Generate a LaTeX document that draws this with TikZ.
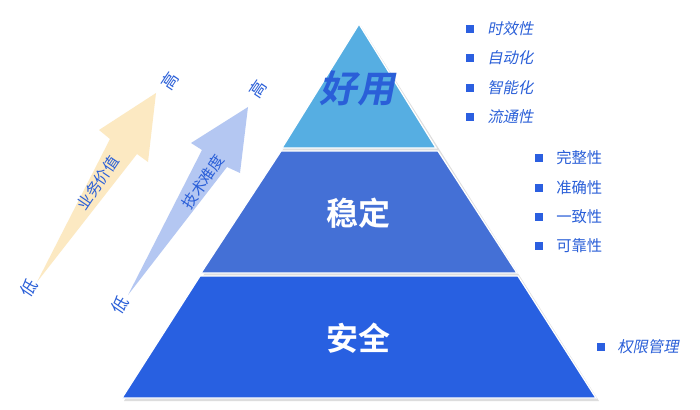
\documentclass[tikz,border=0pt]{standalone}
\usepackage{fontspec}
\newfontfamily\cjk{Noto Sans CJK SC}
\newfontfamily\cjkit[FakeSlant=0.2]{Noto Sans CJK SC}
\newfontfamily\cjkbf{Noto Sans CJK SC Bold}
\newfontfamily\cjkbfit[FakeSlant=0.2]{Noto Sans CJK SC Bold}
\begin{document}
\begin{tikzpicture}[x=0.75pt,y=-0.75pt,
  lbl/.style={text=txtblue,font=\cjk\fontsize{11.5}{13}\selectfont,inner sep=0pt},
  end/.style={text=txtblue,font=\cjk\fontsize{12.5}{14}\selectfont,inner sep=0pt},
  item/.style={text=txtblue,font=\cjk\fontsize{11.5}{13}\selectfont,anchor=west,inner sep=0pt},
  itemit/.style={text=txtblue,font=\cjkit\fontsize{11.5}{13}\selectfont,anchor=west,inner sep=0pt},
  sq/.style={fill=bullet,minimum size=6pt,inner sep=0pt},
  layer/.style={draw=white,line width=1pt},
  big/.style={text=white,font=\cjkbf\fontsize{24}{28}\selectfont}]
\definecolor{txtblue}{HTML}{2A5FD8}
\definecolor{bullet}{HTML}{2B5FE0}
\definecolor{ctop}{HTML}{56AEE2}
\definecolor{cmid}{HTML}{4470D6}
\definecolor{cbot}{HTML}{2860E1}
\definecolor{cyel}{HTML}{FCE9C2}
\definecolor{cblu}{HTML}{B4C7F2}
\useasboundingbox[fill=white] (0,0) rectangle (700,410);
% shadow
\fill[black!22,opacity=0.6] (361,26) -- (599,401) -- (124,401) -- cycle;
% pyramid layers
\path[layer,fill=cbot] (200,276) -- (518,276) -- (596,398) -- (122,398) -- cycle;
\path[layer,fill=cmid] (281,151) -- (438,151) -- (517,273) -- (201,273) -- cycle;
\path[layer,fill=ctop] (359,24) -- (436,148) -- (282,148) -- cycle;
\node[text=txtblue,font=\cjkbfit\fontsize{28}{32}\selectfont] (t1) at (357,88) {好用};
\node[big] (t2) at (358,213) {稳定};
\node[big] (t3) at (358,338) {安全};
% arrows
\fill[cyel] (37,282) -- (137,154) -- (148,162) -- (156,93) -- (99,130) -- (110,139) -- cycle;
\fill[cblu] (128,295) -- (227,167) -- (240,173) -- (248,107) -- (191,143) -- (202,150) -- cycle;
\node[lbl,rotate=56] (a1) at (98,183) {业务价值};
\node[end,rotate=56] (a1l) at (29,288) {低};
\node[end,rotate=56] (a1h) at (170,81) {高};
\node[lbl,rotate=56] (a2) at (203,182) {技术难度};
\node[end,rotate=56] (a2l) at (120,305) {低};
\node[end,rotate=56] (a2h) at (258,89) {高};
% lists
\foreach \y/\t [count=\i] in {29/时效性,58/自动化,88/智能化,117/流通性}{
  \node[sq] (s1\i) at (470,\y) {};
  \node[itemit] (l1\i) at (487,\y) {\t};
}
\foreach \y/\t [count=\i] in {158/完整性,188/准确性,217/一致性,246/可靠性}{
  \node[sq] (s2\i) at (539,\y) {};
  \node[item] (l2\i) at (556,\y) {\t};
}
\node[sq] (s31) at (601,347) {};
\node[itemit] (l31) at (617,347) {权限管理};
\end{tikzpicture}
\end{document}
